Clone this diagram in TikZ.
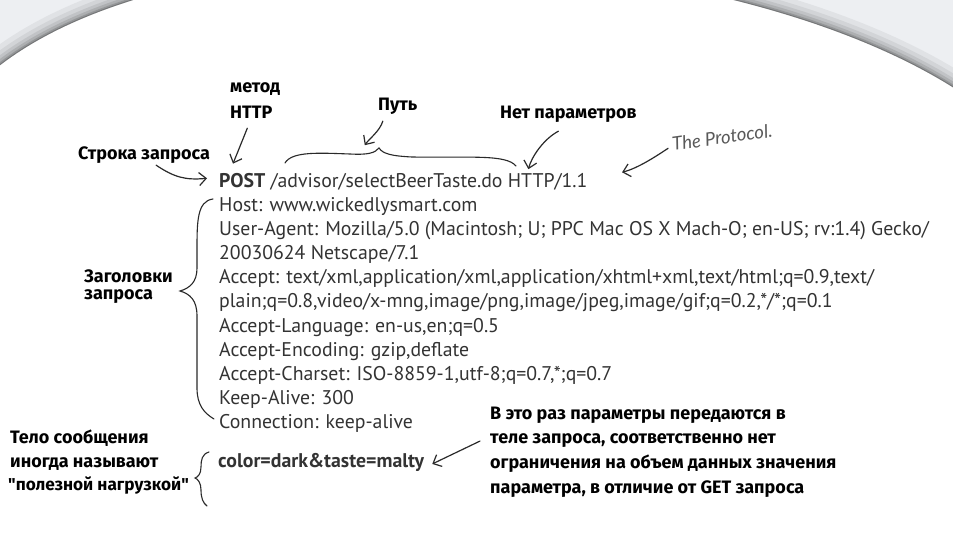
\documentclass[tikz,border=0pt]{standalone}
\usepackage{fontspec}
\setmainfont{PT Sans}
\newfontfamily\hand{Fira Sans}
\newfontfamily\scrawl{Lato}
\usetikzlibrary{arrows.meta,calc}
\definecolor{ink}{HTML}{2A2A2A}
\definecolor{txt}{HTML}{333333}
\definecolor{pagegray}{HTML}{EDEFF2}
\begin{document}
\begin{tikzpicture}[x=1pt,y=-1pt,
  req/.style={anchor=base west,inner sep=0pt,font=\fontsize{19.8}{22}\selectfont,text=txt},
  lbl/.style={anchor=base west,inner sep=0pt,font=\hand\bfseries\fontsize{18}{20}\selectfont,text=black},
  arr/.style={draw=ink,line width=1.2pt,-{Straight Barb[length=7pt,width=13pt]},line cap=round},
  brace/.style={draw=ink,line width=1.1pt,line cap=round}]
\useasboundingbox (0,0) rectangle (953,545);
\fill[white] (0,0) rectangle (953,545);
% page edge with shadow
\fill[pagegray] (-1,66) .. controls (200,-90) and (720,-60) .. (954,88) -- (954,-200) -- (-1,-200) -- cycle;
\begin{scope}
\clip (-1,66) .. controls (200,-90) and (720,-60) .. (954,88) -- (954,-200) -- (-1,-200) -- cycle;
\foreach \w/\o in {34/0.05,24/0.06,16/0.08,10/0.1,5/0.14,2/0.2}
  \draw[line width=\w pt,black,opacity=\o] (-1,66) .. controls (200,-90) and (720,-60) .. (954,88);
\end{scope}

% request lines
\node[req] (l1) at (219,188) {\textbf{POST} /advisor/selectBeerTaste.do HTTP/1.1};
\node[req] (l2) at (219,212) {Host: www.wickedlysmart.com};
\node[req] (l3) at (219,236) {User-Agent: Mozilla/5.0 (Macintosh; U; PPC Mac OS X Mach-O; en-US; rv:1.4) Gecko/};
\node[req] (l4) at (219,260) {20030624 Netscape/7.1};
\node[req] (l5) at (219,284) {Accept: text/xml,application/xml,application/xhtml+xml,text/html;q=0.9,text/};
\node[req] (l6) at (219,308) {plain;q=0.8,video/x-mng,image/png,image/jpeg,image/gif;q=0.2,*/*;q=0.1};
\node[req] (l7) at (219,332) {Accept-Language: en-us,en;q=0.5};
\node[req] (l8) at (219,356) {Accept-Encoding: gzip,deflate};
\node[req] (l9) at (219,380) {Accept-Charset: ISO-8859-1,utf-8;q=0.7,*;q=0.7};
\node[req] (l10) at (219,404) {Keep-Alive: 300};
\node[req] (l11) at (219,428) {Connection: keep-alive};
\node[req,font=\bfseries\fontsize{19.8}{22}\selectfont] (body) at (218,467) {color=dark\&taste=malty};

% labels
\node[lbl] (metod) at (230,93) {метод};
\node[lbl] (http) at (230,119) {HTTP};
\node[lbl] (put) at (378,111) {Путь};
\node[lbl] (net) at (500,119) {Нет параметров};
\node[lbl] (strq) at (78,160) {Строка запроса};
\node[lbl] (zag1) at (84,283) {Заголовки};
\node[lbl] (zag2) at (84,300) {запроса};
\node[lbl] (telo1) at (10,443) {Тело сообщения};
\node[lbl] (telo2) at (10,467) {иногда называют};
\node[lbl,font=\hand\bfseries\fontsize{17.2}{20}\selectfont] (telo3) at (8,490) {"полезной нагрузкой"};
\node[lbl] (p1) at (490,419) {В это раз параметры передаются в};
\node[lbl] (p2) at (490,443) {теле запроса, соответственно нет};
\node[lbl] (p3) at (490,468) {ограничения на объем данных значения};
\node[lbl] (p4) at (490,493) {параметра, в отличие от GET запроса};
\node[anchor=base west,inner sep=0pt,rotate=8,text=black!65,font=\scrawl\itshape\fontsize{18.5}{20}\selectfont] (proto) at (673,151) {The Protocol.};

% braces
\draw[brace] (213,199) .. controls (197,201) and (197,222) .. (197,250) -- (197,268)
  .. controls (197,282) and (190,288) .. (180,291)
  .. controls (190,294) and (197,300) .. (197,316) -- (197,388)
  .. controls (197,405) and (204,413) .. (214,419);
\draw[brace] (209,452) .. controls (202,454) and (201,460) .. (201,467)
  .. controls (201,474) and (198,477) .. (195,478)
  .. controls (198,479) and (201,483) .. (201,490)
  .. controls (201,498) and (203,503) .. (207,506);
\draw[brace] (285,163) .. controls (292,151) and (320,153) .. (350,154)
  .. controls (368,155) and (375,153) .. (379,148)
  .. controls (383,154) and (392,156) .. (412,157)
  .. controls (470,158) and (506,154) .. (516,166);

% arrows
\draw[arr] ($(strq.south east)+(-54,1)$) .. controls +(18,12) and +(-22,2) .. ($(l1.west)+(-12,-4)$);
\draw[arr] ($(http.south)+(-4,9)$) -- ($(l1.north west)+(14,-10)$);
\draw[arr] ($(put.south)+(-15,6)$) .. controls +(-3,10) and +(4,-6) .. ($(put.south)+(-33,30)$);
\draw[arr] ($(net.south)+(-10,8)$) .. controls +(-15,8) and +(3,-12) .. ($(net.south)+(-40,46)$);
\draw[arr] ($(proto.west)+(-4,4)$) .. controls +(-15,10) and +(15,-4) .. ($(proto.west)+(-50,28)$);
\draw[arr] ($(p2.west)+(-10,1)$) -- ($(body.east)+(8,2)$);
\end{tikzpicture}
\end{document}
